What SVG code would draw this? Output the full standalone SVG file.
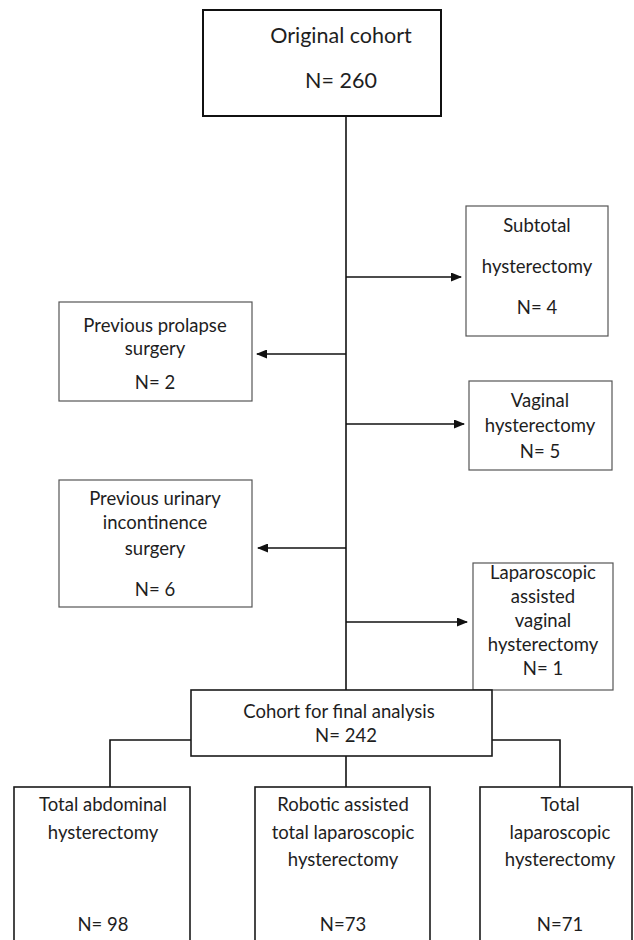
<svg xmlns="http://www.w3.org/2000/svg" width="634" height="940" viewBox="0 0 634 940">
<style>
  .box { fill: #ffffff; stroke: #555555; stroke-width: 1.2; }
  .main { fill: #ffffff; stroke: #1a1a1a; stroke-width: 1.6; }
  .top { fill: #ffffff; stroke: #111111; stroke-width: 2; }
  .con { fill: none; stroke: #111111; stroke-width: 1.6; }
  text { font-family: Lato, "Liberation Sans", sans-serif; font-size: 18.5px; fill: #1e1e1e; text-anchor: middle; }
  .big { font-size: 21.5px; }
</style>
<defs>
  <marker id="ah" markerUnits="userSpaceOnUse" markerWidth="11" markerHeight="9" refX="10" refY="4.5" orient="auto">
    <path d="M0,0 L11,4.5 L0,9 Z" fill="#111111"/>
  </marker>
</defs>
<g id="connectors">
  <line class="con" x1="346" y1="116" x2="346" y2="690"/>
  <line class="con" x1="346" y1="277" x2="461" y2="277" marker-end="url(#ah)"/>
  <line class="con" x1="346" y1="354" x2="257" y2="354" marker-end="url(#ah)"/>
  <line class="con" x1="346" y1="424" x2="464" y2="424" marker-end="url(#ah)"/>
  <line class="con" x1="346" y1="548" x2="258" y2="548" marker-end="url(#ah)"/>
  <line class="con" x1="346" y1="622" x2="467" y2="622" marker-end="url(#ah)"/>
  <polyline class="con" points="191,740 110,740 110,787"/>
  <polyline class="con" points="492,740 560,740 560,787"/>
  <line class="con" x1="346" y1="756" x2="346" y2="787"/>
</g>
<g id="original">
  <rect class="top" x="203" y="10" width="238" height="106"/>
  <text class="big" x="341" y="43">Original cohort</text>
  <text class="big" x="341" y="88">N= 260</text>
</g>
<g id="subtotal">
  <rect class="box" x="466" y="206" width="142" height="130"/>
  <text x="537" y="232">Subtotal</text>
  <text x="537" y="273">hysterectomy</text>
  <text x="537" y="314">N= 4</text>
</g>
<g id="prolapse">
  <rect class="box" x="59" y="302" width="193" height="99"/>
  <text x="155" y="332">Previous prolapse</text>
  <text x="155" y="355">surgery</text>
  <text x="155" y="389">N= 2</text>
</g>
<g id="vaginal">
  <rect class="box" x="469" y="381" width="143" height="89"/>
  <text x="540" y="407">Vaginal</text>
  <text x="540" y="432">hysterectomy</text>
  <text x="540" y="458">N= 5</text>
</g>
<g id="urinary">
  <rect class="box" x="59" y="480" width="193" height="127"/>
  <text x="155" y="505">Previous urinary</text>
  <text x="155" y="529">incontinence</text>
  <text x="155" y="555">surgery</text>
  <text x="155" y="596">N= 6</text>
</g>
<g id="lavh">
  <rect class="box" x="473" y="563" width="140" height="127"/>
  <text x="543" y="579">Laparoscopic</text>
  <text x="543" y="603">assisted</text>
  <text x="543" y="627">vaginal</text>
  <text x="543" y="651">hysterectomy</text>
  <text x="543" y="675">N= 1</text>
</g>
<g id="final">
  <rect class="main" x="191" y="690" width="301" height="66"/>
  <text x="339" y="718">Cohort for final analysis</text>
  <text x="346" y="742">N= 242</text>
</g>
<g id="tah">
  <rect class="main" x="14" y="787" width="176" height="170"/>
  <text x="103" y="811">Total abdominal</text>
  <text x="103" y="839">hysterectomy</text>
  <text x="103" y="931">N= 98</text>
</g>
<g id="ratlh">
  <rect class="main" x="255" y="787" width="175" height="170"/>
  <text x="343" y="811">Robotic assisted</text>
  <text x="343" y="839">total laparoscopic</text>
  <text x="343" y="866">hysterectomy</text>
  <text x="343" y="931">N=73</text>
</g>
<g id="tlh">
  <rect class="main" x="480" y="787" width="152" height="170"/>
  <text x="560" y="811">Total</text>
  <text x="560" y="839">laparoscopic</text>
  <text x="560" y="866">hysterectomy</text>
  <text x="560" y="931">N=71</text>
</g>
</svg>
